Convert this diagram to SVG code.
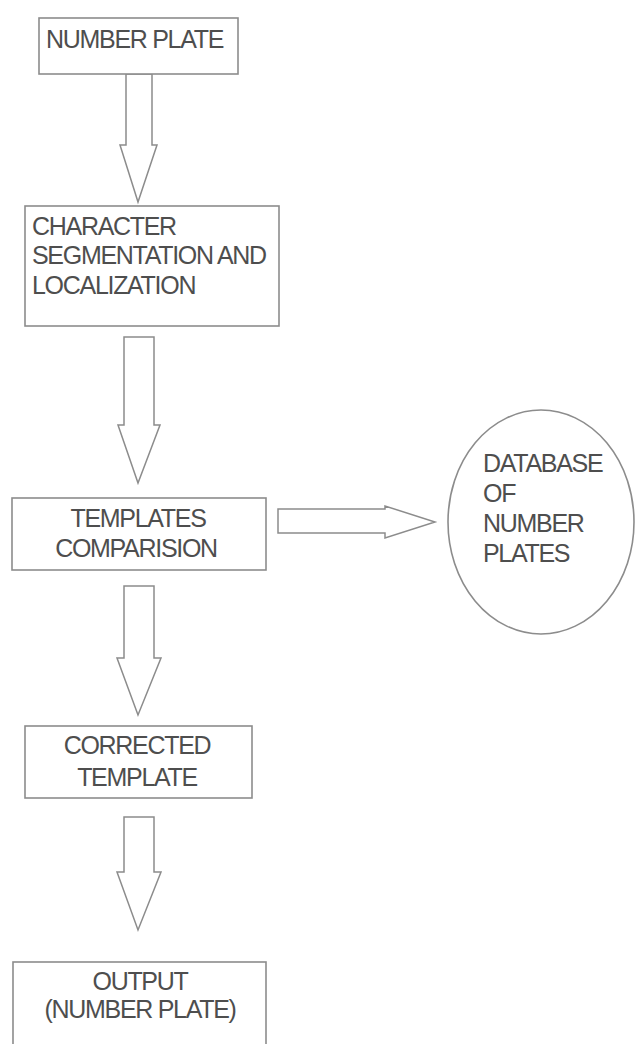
<svg xmlns="http://www.w3.org/2000/svg" width="636" height="1044" viewBox="0 0 636 1044">
  <style>
    .box { fill: #ffffff; stroke: #8c8c8c; stroke-width: 1.6; }
    .arrow { fill: #ffffff; stroke: #8c8c8c; stroke-width: 1.5; stroke-linejoin: miter; }
    .lbl { font-family: "Liberation Sans", Arial, sans-serif; font-size: 25px; letter-spacing: -1.3px; fill: #4e4e4e; }
    .mid { text-anchor: middle; }
  </style>
  <rect width="636" height="1044" fill="#ffffff"/>

  <!-- block arrows between the steps -->
  <g id="connectors">
    <polygon class="arrow" points="126,74 152,74 152,145 157,145 138,202 120,145 126,145"/>
    <polygon class="arrow" points="124,337 154,337 154,425 160,425 138,483 118,425 124,425"/>
    <polygon class="arrow" points="278,509 385,509 385,506 435,522 385,538 385,533 278,533"/>
    <polygon class="arrow" points="124,586 154,586 154,658 161,658 138,715 117,658 124,658"/>
    <polygon class="arrow" points="124,817 154,817 154,872 161,872 138,930 117,872 124,872"/>
  </g>

  <g id="number-plate">
    <rect class="box" x="39" y="18" width="199" height="56"/>
    <text class="lbl" x="46" y="48">NUMBER PLATE</text>
  </g>

  <g id="segmentation">
    <rect class="box" x="25" y="206" width="254" height="120"/>
    <text class="lbl" x="32" y="235">CHARACTER</text>
    <text class="lbl" x="32" y="264">SEGMENTATION AND</text>
    <text class="lbl" x="32" y="294">LOCALIZATION</text>
  </g>

  <g id="templates-comparision">
    <rect class="box" x="12" y="498" width="254" height="72"/>
    <text class="lbl mid" x="138" y="527">TEMPLATES</text>
    <text class="lbl mid" x="136" y="557">COMPARISION</text>
  </g>

  <g id="database">
    <ellipse class="box" cx="541" cy="522" rx="93" ry="112"/>
    <text class="lbl" x="483" y="472">DATABASE</text>
    <text class="lbl" x="483" y="502">OF</text>
    <text class="lbl" x="483" y="532">NUMBER</text>
    <text class="lbl" x="483" y="562">PLATES</text>
  </g>

  <g id="corrected-template">
    <rect class="box" x="25" y="726" width="227" height="72"/>
    <text class="lbl mid" x="137" y="754">CORRECTED</text>
    <text class="lbl mid" x="137" y="786">TEMPLATE</text>
  </g>

  <g id="output">
    <rect class="box" x="13" y="962" width="253" height="100"/>
    <text class="lbl mid" x="140" y="990">OUTPUT</text>
    <text class="lbl mid" x="140" y="1018">(NUMBER PLATE)</text>
  </g>
</svg>
